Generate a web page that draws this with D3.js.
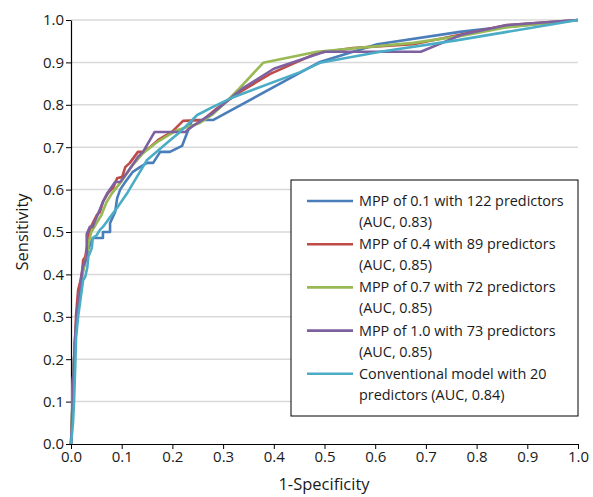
<!DOCTYPE html>
<html>
<head>
<meta charset="utf-8">
<script src="https://cdn.jsdelivr.net/npm/d3@7"></script>
<style>
  body { margin: 0; background: #fff; }
  svg text { font-family: "Open Sans", Lato, sans-serif; fill: #1a1a1a; }
</style>
</head>
<body>
<svg id="chart" width="593" height="497"></svg>
<script>
// ROC points: [1-specificity, sensitivity]
const mpp01 = [[0,0],[0.002,0.057],[0.004,0.15],[0.008,0.245],[0.014,0.316],[0.018,0.375],[0.026,0.42],[0.034,0.46],
  [0.043,0.486],[0.063,0.486],[0.063,0.5],[0.077,0.5],[0.077,0.521],[0.087,0.547],[0.091,0.58],[0.097,0.6],
  [0.107,0.618],[0.122,0.642],[0.136,0.653],[0.15,0.663],[0.162,0.663],[0.176,0.689],[0.195,0.689],[0.219,0.703],
  [0.231,0.74],[0.239,0.764],[0.28,0.764],[0.491,0.901],[0.604,0.943],[0.767,0.972],[0.82,0.979],[1,1]];
const mpp04 = [[0,0],[0.002,0.057],[0.004,0.15],[0.008,0.245],[0.01,0.304],[0.014,0.363],[0.018,0.382],[0.022,0.406],
  [0.024,0.434],[0.028,0.441],[0.034,0.481],[0.037,0.505],[0.043,0.521],[0.051,0.54],[0.057,0.547],[0.063,0.571],
  [0.073,0.592],[0.083,0.604],[0.091,0.627],[0.101,0.63],[0.107,0.653],[0.116,0.663],[0.132,0.689],[0.142,0.689],
  [0.156,0.7],[0.172,0.717],[0.199,0.736],[0.221,0.762],[0.26,0.764],[0.288,0.792],[0.333,0.83],[0.393,0.873],
  [0.485,0.922],[0.556,0.934],[0.675,0.943],[0.767,0.965],[0.86,0.988],[1,1]];
const mpp07 = [[0,0],[0.002,0.06],[0.004,0.15],[0.008,0.24],[0.012,0.3],[0.018,0.36],[0.024,0.41],[0.03,0.44],
  [0.036,0.48],[0.04,0.5],[0.05,0.52],[0.06,0.54],[0.07,0.57],[0.08,0.59],[0.1,0.62],[0.12,0.655],[0.142,0.686],
  [0.172,0.714],[0.209,0.74],[0.254,0.757],[0.28,0.778],[0.3,0.8],[0.333,0.84],[0.379,0.899],[0.485,0.925],
  [0.675,0.946],[0.767,0.962],[0.86,0.983],[1,1]];
const mpp10 = [[0,0],[0.002,0.05],[0.004,0.14],[0.008,0.25],[0.012,0.315],[0.018,0.363],[0.022,0.41],[0.024,0.42],
  [0.031,0.438],[0.031,0.495],[0.037,0.512],[0.043,0.512],[0.047,0.525],[0.063,0.571],[0.071,0.59],[0.087,0.618],
  [0.097,0.618],[0.112,0.642],[0.132,0.677],[0.142,0.689],[0.165,0.736],[0.225,0.736],[0.238,0.748],[0.256,0.762],
  [0.28,0.781],[0.34,0.84],[0.4,0.885],[0.5,0.925],[0.69,0.925],[0.77,0.965],[0.86,0.988],[1,1]];
const conventional = [[0,0],[0.004,0.05],[0.006,0.1],[0.008,0.17],[0.01,0.25],[0.014,0.3],[0.024,0.387],[0.028,0.394],
  [0.032,0.415],[0.034,0.441],[0.041,0.462],[0.043,0.486],[0.051,0.493],[0.057,0.505],[0.063,0.512],[0.077,0.535],
  [0.091,0.557],[0.11,0.59],[0.15,0.67],[0.189,0.71],[0.215,0.736],[0.249,0.776],[0.28,0.795],[0.32,0.818],
  [0.452,0.877],[0.491,0.899],[0.61,0.925],[0.76,0.952],[0.86,0.972],[1,1]];

const seriesNames = [
  ["MPP of 0.1 with 122 predictors", "(AUC, 0.83)"],
  ["MPP of 0.4 with 89 predictors", "(AUC, 0.85)"],
  ["MPP of 0.7 with 72 predictors", "(AUC, 0.85)"],
  ["MPP of 1.0 with 73 predictors", "(AUC, 0.85)"],
  ["Conventional model with 20", "predictors (AUC, 0.84)"]
];
const seriesColors = ["#4a7ebb", "#be4b48", "#98b954", "#7d60a0", "#4bacc6"];
const tickValues = [0, 0.1, 0.2, 0.3, 0.4, 0.5, 0.6, 0.7, 0.8, 0.9, 1.0];

const allSeries = [mpp01, mpp04, mpp07, mpp10, conventional];

const svg = d3.select("#chart");
const margin = { left: 71, right: 15, top: 20, bottom: 53 };
const width = 593 - margin.left - margin.right;
const height = 497 - margin.top - margin.bottom;

const x = d3.scaleLinear().domain([0, 1]).range([0, width]);
const y = d3.scaleLinear().domain([0, 1]).range([height, 0]);

const g = svg.append("g").attr("transform", `translate(${margin.left},${margin.top})`);

// gridlines
g.append("g")
  .selectAll("line")
  .data(tickValues.slice(1))
  .join("line")
  .attr("x1", 0).attr("x2", width)
  .attr("y1", d => y(d)).attr("y2", d => y(d))
  .attr("stroke", "#d9d9d9")
  .attr("stroke-width", 1.5);

// axes
const xAxis = g.append("g")
  .attr("transform", `translate(0,${height})`)
  .call(d3.axisBottom(x).tickValues(tickValues).tickFormat(d3.format(".1f")).tickSize(5).tickSizeOuter(0));
const yAxis = g.append("g")
  .call(d3.axisLeft(y).tickValues(tickValues).tickFormat(d3.format(".1f")).tickSize(5).tickSizeOuter(0));

[xAxis, yAxis].forEach(a => {
  a.select(".domain").attr("stroke", "#000").attr("stroke-width", 1.2);
  a.selectAll(".tick line").attr("stroke", "#000");
  a.selectAll(".tick text").style("font-size", "15px").attr("fill", "#1a1a1a")
    .style("font-family", "'Open Sans', sans-serif");
});
yAxis.selectAll(".tick text").attr("x", -7);
xAxis.selectAll(".tick text").attr("y", 7);

// curves
const line = d3.line().x(d => x(d[0])).y(d => y(d[1]));
g.append("g")
  .selectAll("path")
  .data(allSeries)
  .join("path")
  .attr("d", line)
  .attr("fill", "none")
  .attr("stroke", (d, i) => seriesColors[i])
  .attr("stroke-width", 2.6)
  .attr("stroke-linejoin", "round");

// axis titles
svg.append("text")
  .attr("x", 324).attr("y", 490)
  .attr("text-anchor", "middle")
  .style("font-size", "16.5px")
  .text("1-Specificity");
svg.append("text")
  .attr("transform", `translate(28,${margin.top + height / 2}) rotate(-90)`)
  .attr("text-anchor", "middle")
  .style("font-size", "16.5px")
  .text("Sensitivity");

// legend
const legend = svg.append("g").attr("transform", "translate(291,180)");
legend.append("rect")
  .attr("width", 287).attr("height", 236)
  .attr("fill", "#fff").attr("stroke", "#000").attr("stroke-width", 1);

const items = legend.selectAll("g.item")
  .data(seriesNames)
  .join("g")
  .attr("class", "item")
  .attr("transform", (d, i) => `translate(0,${21 + i * 43.2})`);
items.append("line")
  .attr("x1", 16).attr("x2", 62)
  .attr("stroke", (d, i) => seriesColors[i])
  .attr("stroke-width", 2.6);
items.selectAll("text")
  .data(d => d)
  .join("text")
  .attr("x", 68)
  .attr("y", (d, j) => 5 + j * 21)
  .style("font-size", "14.4px")
  .text(d => d);
</script>
</body>
</html>
